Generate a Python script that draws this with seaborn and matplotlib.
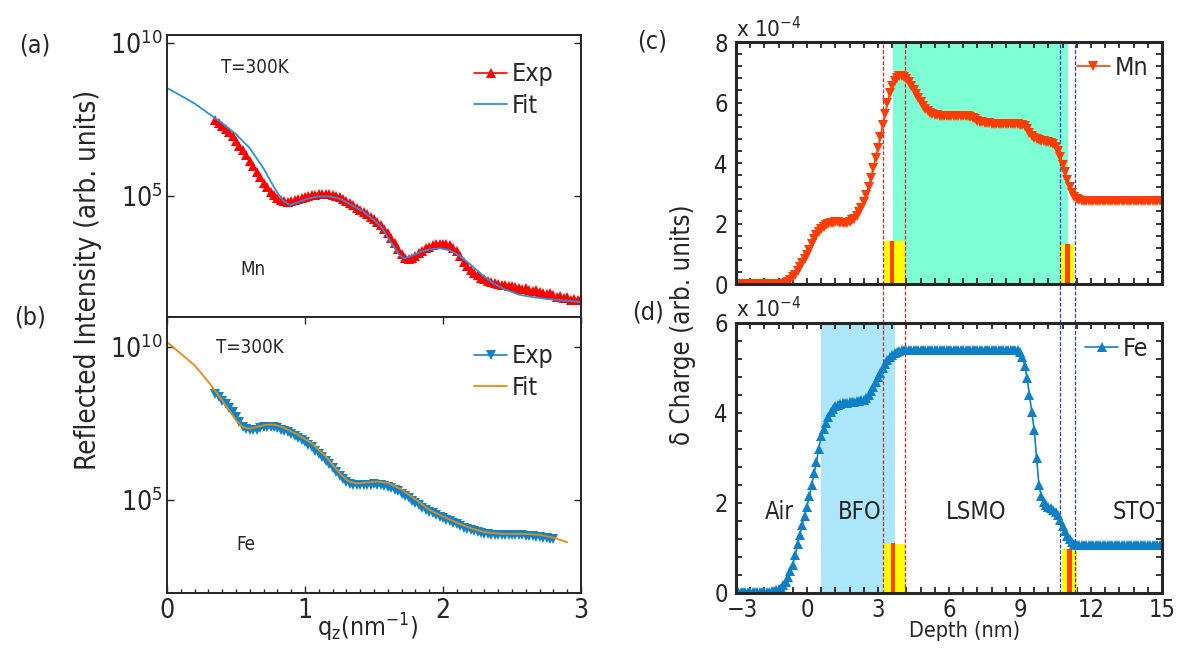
import numpy as np
import matplotlib
matplotlib.use("Agg")
import matplotlib.pyplot as plt
import matplotlib.ticker as mticker
import matplotlib.transforms as mtransforms
import seaborn as sns

# ---- datos ----
# (a) Mn, reflectividad (log10 de la intensidad), paso 0.025 nm^-1
q_exp_mn = np.round(np.arange(0.35, 3.0001, 0.025), 3)
logI_exp_mn = [7.48, 7.40, 7.29, 7.20, 7.09, 6.95, 6.80, 6.65, 6.49, 6.33,
               6.16, 5.98, 5.80, 5.62, 5.44, 5.28, 5.14, 5.02, 4.93, 4.87,
               4.83, 4.82, 4.83, 4.86, 4.90, 4.94, 4.98, 5.01, 5.03, 5.05,
               5.06, 5.07, 5.07, 5.06, 5.05, 5.01, 4.97, 4.91, 4.84, 4.77,
               4.70, 4.62, 4.55, 4.48, 4.41, 4.33, 4.24, 4.16, 4.06, 3.93,
               3.78, 3.62, 3.46, 3.27, 3.10, 2.99, 2.95, 2.98, 3.05, 3.14,
               3.22, 3.29, 3.35, 3.40, 3.44, 3.45, 3.44, 3.42, 3.39, 3.31,
               3.20, 3.03, 2.85, 2.70, 2.58, 2.48, 2.41, 2.34, 2.28, 2.22,
               2.18, 2.16, 2.13, 2.10, 2.09, 2.06, 2.05, 2.02, 2.01, 1.96,
               1.99, 1.93, 1.90, 1.93, 1.87, 1.82, 1.79, 1.84, 1.76, 1.70,
               1.72, 1.66, 1.70, 1.62, 1.64, 1.59, 1.63]
q_fit_mn = [0.00, 0.10, 0.20, 0.30, 0.40, 0.50, 0.60, 0.70, 0.78, 0.84,
            0.89, 0.95, 1.02, 1.10, 1.18, 1.26, 1.34, 1.42, 1.50, 1.56,
            1.62, 1.68, 1.72, 1.78, 1.85, 1.92, 1.98, 2.05, 2.12, 2.20,
            2.28, 2.36, 2.45, 2.55, 2.65, 2.75, 2.85, 2.95, 3.00]
logI_fit_mn = [8.53, 8.28, 8.02, 7.70, 7.38, 7.02, 6.56, 5.90, 5.25, 4.85,
               4.71, 4.80, 4.92, 4.99, 4.99, 4.90, 4.70, 4.50, 4.22, 3.95,
               3.50, 3.10, 2.96, 3.06, 3.20, 3.27, 3.29, 3.23, 3.05, 2.76,
               2.44, 2.16, 1.95, 1.78, 1.70, 1.64, 1.60, 1.56, 1.54]

# (b) Fe, reflectividad
q_exp_fe = np.round(np.arange(0.35, 2.8001, 0.025), 3)
logI_exp_fe = [8.45, 8.35, 8.25, 8.14, 8.02, 7.87, 7.70, 7.55, 7.40, 7.32,
               7.28, 7.28, 7.30, 7.34, 7.37, 7.38, 7.38, 7.37, 7.34, 7.30,
               7.26, 7.21, 7.16, 7.09, 7.02, 6.95, 6.88, 6.80, 6.72, 6.61,
               6.50, 6.39, 6.28, 6.16, 6.03, 5.90, 5.78, 5.67, 5.58, 5.52,
               5.49, 5.48, 5.48, 5.48, 5.49, 5.50, 5.51, 5.50, 5.49, 5.46,
               5.43, 5.39, 5.34, 5.28, 5.21, 5.13, 5.05, 4.98, 4.90, 4.82,
               4.75, 4.68, 4.62, 4.56, 4.50, 4.45, 4.40, 4.35, 4.30, 4.25,
               4.20, 4.15, 4.10, 4.06, 4.02, 3.99, 3.96, 3.93, 3.90, 3.88,
               3.87, 3.87, 3.86, 3.86, 3.86, 3.85, 3.85, 3.85, 3.84, 3.84,
               3.83, 3.82, 3.81, 3.80, 3.78, 3.76, 3.75, 3.73, 3.72]
q_fit_fe = [0.00, 0.10, 0.20, 0.30, 0.40, 0.50, 0.55, 0.60, 0.66, 0.72,
            0.78, 0.85, 0.95, 1.05, 1.15, 1.25, 1.31, 1.37, 1.44, 1.52,
            1.60, 1.70, 1.80, 1.90, 2.00, 2.10, 2.20, 2.30, 2.40, 2.50,
            2.60, 2.70, 2.80, 2.90]
logI_fit_fe = [10.16, 9.78, 9.40, 8.86, 8.26, 7.61, 7.38, 7.33, 7.40, 7.46,
               7.46, 7.36, 7.13, 6.85, 6.43, 5.88, 5.62, 5.54, 5.57, 5.60,
               5.56, 5.34, 5.02, 4.68, 4.46, 4.26, 4.08, 3.95, 3.90, 3.89,
               3.89, 3.86, 3.77, 3.62]

# (c), (d) perfiles de delta (en unidades de 1e-4), paso 0.1 nm
depth = np.round(np.arange(-3, 15.001, 0.1), 1)
delta_mn = ([0.00] * 20 +
            [0.01, 0.04, 0.08, 0.14, 0.22, 0.31, 0.42, 0.55, 0.68, 0.81,
             0.95, 1.13, 1.32, 1.48, 1.62, 1.73, 1.82, 1.89, 1.95, 1.99,
             2.02, 2.03, 2.04, 2.04, 2.03, 2.02, 2.02, 2.03, 2.06, 2.10,
             2.16, 2.26, 2.38, 2.52, 2.70, 2.93, 3.20, 3.50, 3.85, 4.17,
             4.50, 4.87, 5.25, 5.63, 6.00, 6.30, 6.55, 6.72, 6.82, 6.87,
             6.87, 6.84, 6.78, 6.68, 6.55, 6.42, 6.28, 6.15, 6.02, 5.90,
             5.80, 5.72, 5.66, 5.62, 5.60, 5.58, 5.57, 5.56] +
            [5.56] * 10 +
            [5.54, 5.52, 5.48, 5.44, 5.40, 5.37, 5.35, 5.33, 5.32, 5.31, 5.30] +
            [5.29] * 9 +
            [5.28, 5.28, 5.27, 5.25, 5.22, 5.12, 5.00, 4.90, 4.84, 4.80,
             4.76, 4.74, 4.72, 4.70, 4.68, 4.65, 4.62, 4.54, 4.40, 4.20,
             3.95, 3.70, 3.45, 3.22, 3.02, 2.88, 2.80, 2.77, 2.76] +
            [2.75] * 34)
delta_fe = ([0.02] * 14 +
            [0.03, 0.04, 0.05, 0.06, 0.08, 0.12, 0.17, 0.25, 0.35, 0.48,
             0.63, 0.84, 1.08, 1.30, 1.52, 1.72, 1.92, 2.15, 2.40, 2.66,
             2.92, 3.20, 3.48, 3.64, 3.77, 3.91, 4.03, 4.10, 4.15, 4.18,
             4.20, 4.22, 4.23, 4.23, 4.24, 4.24, 4.25, 4.26, 4.27, 4.28,
             4.30, 4.34, 4.40, 4.48, 4.58, 4.69, 4.80, 4.90, 5.00, 5.09,
             5.17, 5.24, 5.29, 5.33, 5.36, 5.38, 5.40] +
            [5.41] * 49 +
            [5.36, 5.25, 5.05, 4.78, 4.40, 4.02, 3.63, 3.00, 2.40, 2.15,
             2.02, 1.95, 1.91, 1.88, 1.85, 1.80, 1.73, 1.62, 1.48, 1.37,
             1.27, 1.19, 1.13, 1.09, 1.07] +
            [1.06] * 36)

# capas / interfaces
red_lines = [3.20, 4.13]
blue_lines = [10.68, 11.32]
mn_band = (3.65, 11.02)
bfo_band = (0.58, 3.71)
# barras amarillas y franjas rojas: (inicio, fin, altura)
yellow_c = [(3.24, 4.13, 1.41), (10.68, 11.27, 1.33)]
stripe_c = [(3.50, 3.68, 1.41), (10.91, 11.12, 1.33)]
yellow_d = [(3.25, 4.16, 1.10), (10.79, 11.40, 0.98)]
stripe_d = [(3.53, 3.71, 1.11), (10.97, 11.20, 0.98)]
layer_names = ["Air", "BFO", "LSMO", "STO"]
layer_x = [-1.15, 2.25, 7.15, 13.85]

sns.set_style("ticks")
plt.rcParams['font.family'] = ['DejaVu Sans']
plt.rcParams['font.stretch'] = 'condensed'
plt.rcParams['mathtext.fontset'] = 'dejavusans'

W, H = 1182, 650
fig = plt.figure(figsize=(W / 100, H / 100), dpi=100)


def px_axes(x0, y0, x1, y1):
    return fig.add_axes([x0 / W, 1 - y1 / H, (x1 - x0) / W, (y1 - y0) / H])


ax_a = px_axes(167, 35, 581, 317)
ax_b = px_axes(167, 317, 581, 593)
ax_c = px_axes(736, 42, 1162, 284)
ax_d = px_axes(736, 323, 1162, 593)

# ---- paneles izquierdos ----
sns.lineplot(x=q_exp_mn, y=10 ** np.array(logI_exp_mn), ax=ax_a, color='#ff0000',
             marker='^', markersize=6.5, markeredgewidth=0, lw=1.2, label='Exp', sort=False)
sns.lineplot(x=q_fit_mn, y=10 ** np.array(logI_fit_mn), ax=ax_a, color='#2b92d6',
             lw=1.3, label='Fit', sort=False)
sns.lineplot(x=q_exp_fe, y=10 ** np.array(logI_exp_fe), ax=ax_b, color='#1283c9',
             marker='v', markersize=6.5, markeredgewidth=0, lw=1.2, label='Exp', sort=False)
sns.lineplot(x=q_fit_fe, y=10 ** np.array(logI_fit_fe), ax=ax_b, color='#e38c14',
             lw=1.3, label='Fit', sort=False)

ylims = {ax_a: (10 ** 1.05, 10 ** 10.26), ax_b: (10 ** 1.96, 10 ** 10.98)}
for ax in (ax_a, ax_b):
    ax.set_yscale('log')
    ax.set_xlim(0, 3)
    ax.set_ylim(*ylims[ax])
    ax.set_yticks([1e5, 1e10])
    ax.yaxis.set_minor_locator(mticker.NullLocator())
    ax.set_xticks([0, 1, 2, 3])
    ax.xaxis.set_minor_locator(mticker.MultipleLocator(0.1))
    ax.tick_params(which='both', direction='in', right=True, labelsize=19, width=1.0)
    ax.tick_params(which='major', length=5)
    ax.tick_params(which='minor', length=3, top=False)
    for s in ax.spines.values():
        s.set_linewidth(1.4)
    ax.set_xlabel('')
    ax.set_ylabel('')
    ax.legend(loc='upper right', frameon=False, fontsize=18, handlelength=1.3,
              handletextpad=0.2, borderaxespad=0.7, labelspacing=0.3)

ax_a.tick_params(which='both', bottom=False, top=False, labelbottom=False)
ax_b.tick_params(which='major', top=True)

ax_a.text(0.213, 0.885, 'T=300K', transform=ax_a.transAxes, ha='center', va='center', fontsize=13.5)
ax_a.text(0.208, 0.167, 'Mn', transform=ax_a.transAxes, ha='center', va='center', fontsize=13.5)
ax_b.text(0.20, 0.891, 'T=300K', transform=ax_b.transAxes, ha='center', va='center', fontsize=13.5)
ax_b.text(0.19, 0.174, 'Fe', transform=ax_b.transAxes, ha='center', va='center', fontsize=13.5)

fig.text(88 / W, 1 - 280 / H, 'Reflected Intensity (arb. units)', rotation=90,
         ha='center', va='center', fontsize=20)
fig.text(368 / W, 1 - 628 / H, 'q$_\\mathregular{z}$(nm$^{-1}$)', ha='center', va='center', fontsize=18)

# ---- paneles derechos ----
ax_c.axvspan(*mn_band, color='#7fffd4', lw=0, zorder=0)
ax_d.axvspan(*bfo_band, color='#abe6fa', lw=0, zorder=0)

for ax, yel, strp in ((ax_c, yellow_c, stripe_c), (ax_d, yellow_d, stripe_d)):
    ax.bar([(a + b) / 2 for a, b, h in yel], [h for a, b, h in yel],
           width=[b - a for a, b, h in yel], color='#ffff00', lw=0, zorder=1)
    ax.bar([(a + b) / 2 for a, b, h in strp], [h for a, b, h in strp],
           width=[b - a for a, b, h in strp], color='#ff4500', lw=0, zorder=1.5)

sns.lineplot(x=depth, y=delta_mn, ax=ax_c, color='#ff3d00', marker='v', markersize=6.5,
             markeredgewidth=0, lw=1.2, label='Mn', sort=False, zorder=4)
sns.lineplot(x=depth, y=delta_fe, ax=ax_d, color='#0f80c6', marker='^', markersize=6.5,
             markeredgewidth=0, lw=1.2, label='Fe', sort=False, zorder=4)

gap = (323 - 284) / (593 - 323)
for x in red_lines:
    ax_c.axvline(x, color='#cc2a2a', ls='--', lw=0.9, dashes=(3, 1.5), zorder=3)
    ax_d.axvline(x, ymin=0, ymax=1 + gap, color='#cc2a2a', ls='--', lw=0.9,
                 dashes=(3, 1.5), zorder=3, clip_on=False)
for x in blue_lines:
    ax_c.axvline(x, color='#2a3ad6', ls='--', lw=0.9, dashes=(3, 1.5), zorder=3)
    ax_d.axvline(x, ymin=0, ymax=1 + gap, color='#2a3ad6', ls='--', lw=0.9,
                 dashes=(3, 1.5), zorder=3, clip_on=False)

for ax, top in ((ax_c, 8), (ax_d, 6)):
    ax.set_xlim(-3, 15)
    ax.set_ylim(0, top)
    ax.set_xticks([-3, 0, 3, 6, 9, 12, 15])
    ax.set_yticks(list(range(0, top + 1, 2)))
    ax.xaxis.set_minor_locator(mticker.MultipleLocator(0.6))
    ax.yaxis.set_minor_locator(mticker.MultipleLocator(0.4))
    ax.tick_params(which='both', direction='in', top=True, right=True, labelsize=17,
                   width=1.3, length=4)
    ax.tick_params(axis='y', pad=6)
    for s in ax.spines.values():
        s.set_linewidth(2.2)
        s.set_zorder(6)
    ax.set_xlabel('')
    ax.set_ylabel('')
    ax.text(0.0, 1.005, 'x 10$^{-4}$', transform=ax.transAxes, ha='left', va='bottom', fontsize=16)
    ax.legend(loc='upper right', frameon=False, fontsize=18, handlelength=1.3,
              handletextpad=0.2, borderaxespad=0.15)

ax_c.tick_params(labelbottom=False)

# el "-3" un poco a la derecha para no pisar el "0" del eje y
first = ax_d.get_xticklabels()[0]
first.set_transform(first.get_transform() +
                    mtransforms.ScaledTranslation(6 / 100, 0, fig.dpi_scale_trans))

for name, x in zip(layer_names, layer_x):
    ax_d.text(x, 1.8, name, ha='center', va='center', fontsize=17)

fig.text(683 / W, 1 - 325 / H, 'δ Charge (arb. units)', rotation=90, ha='center',
         va='center', fontsize=18.5)
fig.text(965 / W, 1 - 631 / H, 'Depth (nm)', ha='center', va='center', fontsize=15.5)

fig.text(35 / W, 1 - 45 / H, '(a)', ha='center', va='center', fontsize=18)
fig.text(30 / W, 1 - 318 / H, '(b)', ha='center', va='center', fontsize=18)
fig.text(652 / W, 1 - 42 / H, '(c)', ha='center', va='center', fontsize=18)
fig.text(648 / W, 1 - 313 / H, '(d)', ha='center', va='center', fontsize=18)

fig.savefig('out.png', dpi=100, facecolor='white')
